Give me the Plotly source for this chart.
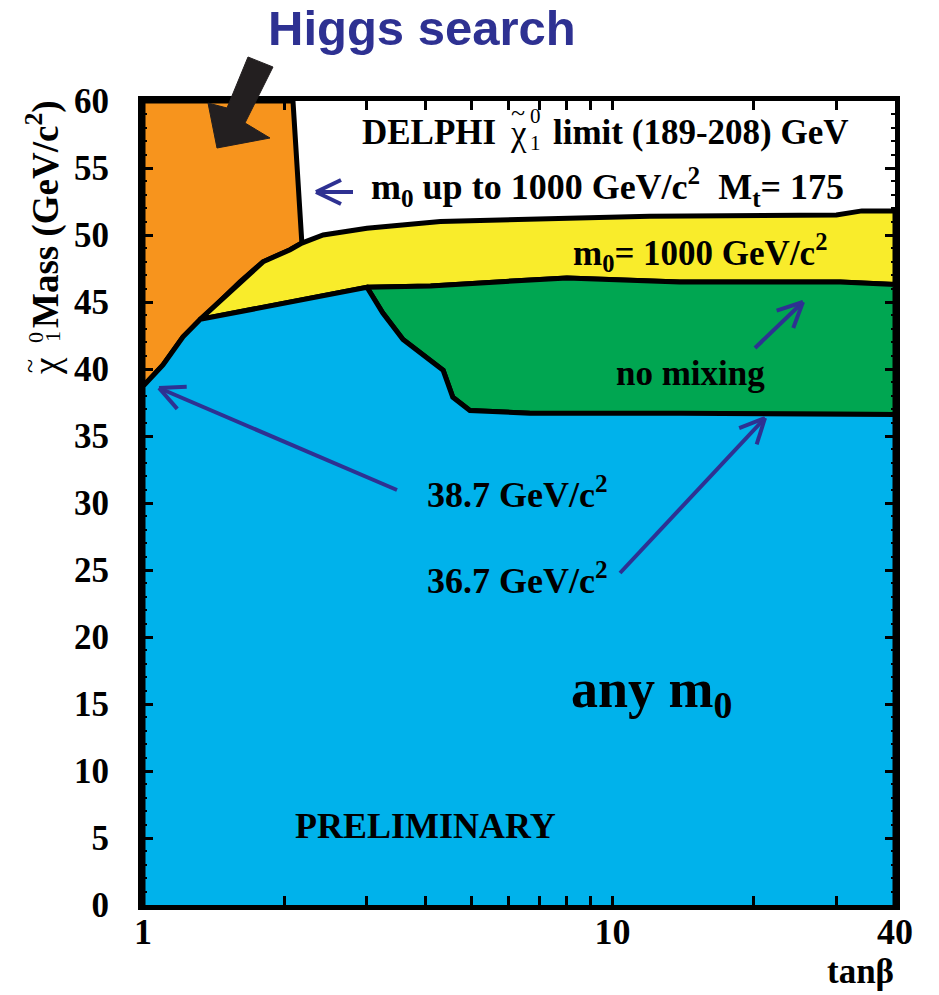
import plotly.graph_objects as go

# ---- exclusion contours (tan(beta), neutralino mass in GeV/c^2) ----
# lower limit valid for any m0 (upper edge of the blue region, left part)
tanb_any = [1.0, 1.103, 1.217, 1.323, 1.80, 2.35, 3.0]
mass_any = [38.7, 40.3, 42.4, 43.7, 44.6, 45.4, 46.1]

# no-mixing limit: lower edge (boundary with the "any m0" region)
tanb_nomix_lo = [3.0, 3.24, 3.58, 4.36, 4.57, 4.97, 6.67, 14.0, 40.0]
mass_nomix_lo = [46.1, 44.2, 42.2, 39.9, 37.9, 36.9, 36.7, 36.7, 36.6]

# no-mixing limit: upper edge
tanb_nomix_hi = [3.0, 4.1, 8.0, 13.9, 30.6, 40.0]
mass_nomix_hi = [46.1, 46.2, 46.8, 46.5, 46.5, 46.3]

# limit for m0 up to 1000 GeV/c^2
tanb_m0 = [1.323, 1.609, 1.802, 2.058, 2.18, 2.42, 3.0, 4.3, 6.7, 12.0, 30.0, 34.0, 40.0]
mass_m0 = [43.7, 46.5, 48.0, 48.9, 49.4, 50.0, 50.5, 51.0, 51.2, 51.4, 51.5, 51.8, 51.8]

# Higgs-search exclusion edge
tanb_higgs = [2.087, 2.18]
mass_higgs = [60.0, 49.4]

# axis ticks
x_tickvals = [1, 2, 3, 4, 5, 6, 7, 8, 9, 10, 20, 30, 40]
x_ticktext = ["1", "", "", "", "", "", "", "", "", "10", "", "", "40"]
y_tickvals = list(range(0, 61, 5))

ORANGE = "#F7941D"
YELLOW = "#F9EC2B"
GREEN = "#00A651"
BLUE = "#00B2EB"
NAVY = "#2E3192"
INK = "#231F20"
SERIF = "Liberation Serif"
SANS = "Liberation Sans"

X_MIN, X_MAX = 1.0, 40.0
Y_MIN, Y_MAX = 0.0, 60.0

# ---- polygons built from the contours ----
# orange: Higgs-excluded corner
orange_x = [X_MIN, X_MIN] + tanb_higgs + tanb_m0[:5][::-1][1:] + tanb_any[:4][::-1]
orange_y = [mass_any[0], Y_MAX] + mass_higgs + mass_m0[:5][::-1][1:] + mass_any[:4][::-1]

# yellow: m0 = 1000 band
yellow_x = tanb_m0 + tanb_nomix_hi[::-1] + tanb_any[3:][::-1][1:]
yellow_y = mass_m0 + mass_nomix_hi[::-1] + mass_any[3:][::-1][1:]

# green: no-mixing band
green_x = tanb_nomix_hi + tanb_nomix_lo[::-1]
green_y = mass_nomix_hi + mass_nomix_lo[::-1]

# blue: any m0
blue_x = [X_MIN] + tanb_any + tanb_nomix_lo[1:] + [X_MAX]
blue_y = [Y_MIN] + mass_any + mass_nomix_lo[1:] + [Y_MIN]

fig = go.Figure()
for xs, ys, col in [(orange_x, orange_y, ORANGE),
                    (yellow_x, yellow_y, YELLOW),
                    (green_x, green_y, GREEN),
                    (blue_x, blue_y, BLUE)]:
    fig.add_trace(go.Scatter(x=xs, y=ys, mode="lines", fill="toself",
                             fillcolor=col, line=dict(color="black", width=5),
                             hoverinfo="skip", showlegend=False))

# ---- layout geometry (pixels) ----
W, H = 939, 995
ML, MR, MT, MB = 143, 44, 101, 90
PW, PH = W - ML - MR, H - MT - MB


def paper(px, py):
    return (px - ML) / PW, (H - MB - py) / PH


annotations = []


def label(text, px, py, size=36, color="black", family=SERIF, angle=0,
          xanchor="center", yanchor="middle", weight="bold"):
    x, y = paper(px, py)
    annotations.append(dict(text=text, x=x, y=y, xref="paper", yref="paper",
                            showarrow=False, xanchor=xanchor, yanchor=yanchor,
                            textangle=angle,
                            font=dict(size=size, color=color, family=family,
                                      weight=weight)))


label("Higgs search", 422, 28, size=49, color=NAVY, family=SANS)

# title line with a stacked neutralino symbol
label("DELPHI", 498, 132, size=35, xanchor="right")
label("χ", 518, 134, size=35, weight="normal")
label("~", 518, 112, size=26, weight="normal")
label("0", 535, 116, size=21, weight="normal")
label("1", 535, 143, size=21, weight="normal")
label("limit (189-208) GeV", 551, 132, size=35, xanchor="left")

label("m<sub>0</sub> up to 1000 GeV/c<sup>2</sup>\u00a0\u00a0M<sub>t</sub>= 175",
      607, 187, size=36)
label("m<sub>0</sub>= 1000 GeV/c<sup>2</sup>", 700, 252, size=35)
label("no mixing", 690, 373, size=35)
label("38.7 GeV/c<sup>2</sup>", 517, 492, size=36)
label("36.7 GeV/c<sup>2</sup>", 517, 578, size=36)
label("any m<sub>0</sub>", 651, 692, size=54)
label("PRELIMINARY", 425, 826, size=36)

# rotated axis title: χ~ with stacked 0/1, then "Mass (GeV/c^2)"
label("Mass (GeV/c<sup>2</sup>)", 43, 330, size=37, angle=-90, yanchor="bottom")
label("χ", 46, 366, size=37, angle=-90, weight="normal")
label("~", 29, 366, size=26, angle=-90, weight="normal")
label("0", 35, 337, size=22, angle=-90, weight="normal")
label("1", 52, 337, size=22, angle=-90, weight="normal")

label("tanβ", 896, 972, size=35, xanchor="right")

shapes = []


def arrow(tail, tip, head_len=25, head_half=12, width=4, color=NAVY):
    """Thin line arrow with an open chevron head, given in pixels."""
    (x0, y0), (x1, y1) = tail, tip
    dx, dy = x1 - x0, y1 - y0
    n = (dx * dx + dy * dy) ** 0.5
    ux, uy = dx / n, dy / n
    px_, py_ = -uy, ux
    segs = [(tail, tip)]
    for s in (1, -1):
        bx = x1 - ux * head_len + s * px_ * head_half
        by = y1 - uy * head_len + s * py_ * head_half
        segs.append(((bx, by), tip))
    for (a, b) in segs:
        xa, ya = paper(*a)
        xb, yb = paper(*b)
        shapes.append(dict(type="line", xref="paper", yref="paper",
                           x0=xa, y0=ya, x1=xb, y1=yb,
                           line=dict(color=color, width=width)))


arrow((353, 192), (316, 192))
arrow((755, 348), (803, 302))
arrow((397, 490), (159, 388))
arrow((620, 573), (765, 418))

# heavy black pointer towards the Higgs-excluded region
pointer = [(248, 57), (227, 108), (208, 103), (217, 148), (270, 138), (245, 123), (273, 67)]
path = "M " + " L ".join("{:.5f},{:.5f}".format(*paper(px, py)) for px, py in pointer) + " Z"
shapes.append(dict(type="path", xref="paper", yref="paper", path=path,
                   fillcolor=INK, line=dict(color=INK, width=1)))

fig.update_layout(
    width=W, height=H,
    margin=dict(l=ML, r=MR, t=MT, b=MB, pad=0),
    paper_bgcolor="white", plot_bgcolor="white",
    showlegend=False,
    annotations=annotations,
    shapes=shapes,
)

fig.update_xaxes(
    type="log", range=[0, 1.60206],
    tickvals=x_tickvals, ticktext=x_ticktext,
    ticks="inside", ticklen=9, tickwidth=3, tickcolor="black",
    showline=True, linewidth=5, linecolor="black", mirror="ticks",
    showgrid=False, zeroline=False,
    tickfont=dict(family=SERIF, size=36, color="black", weight="bold"),
    ticklabelstandoff=-9,
)
fig.update_yaxes(
    range=[Y_MIN, Y_MAX],
    tickvals=y_tickvals,
    ticks="inside", ticklen=10, tickwidth=3, tickcolor="black",
    minor=dict(ticks="inside", dtick=1, ticklen=4, tickwidth=2, tickcolor="black"),
    showline=True, linewidth=5, linecolor="black", mirror="ticks",
    showgrid=False, zeroline=False,
    tickfont=dict(family=SERIF, size=35, color="black", weight="bold"),
    ticklabelstandoff=22,
)

fig.write_html("out.html")
